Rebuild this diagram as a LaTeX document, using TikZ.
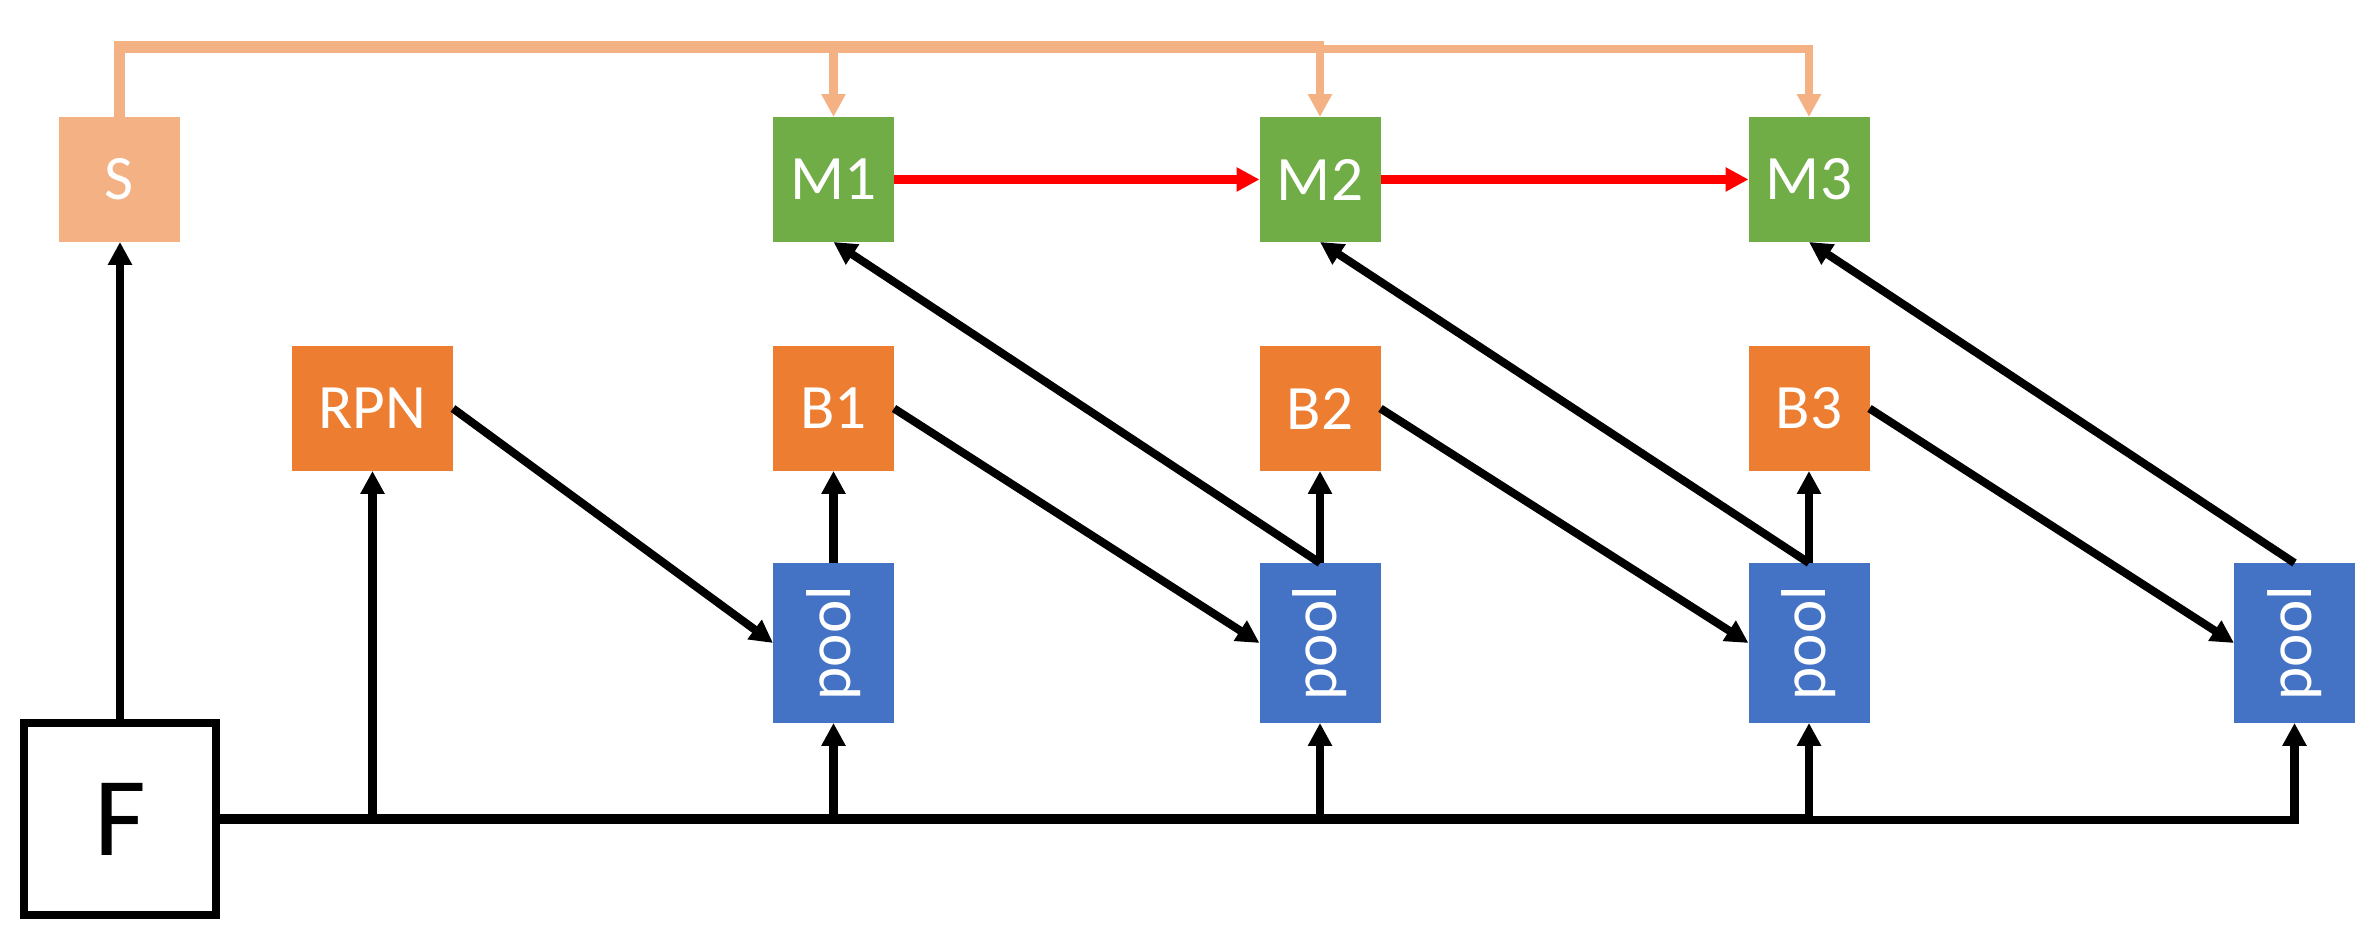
\documentclass[tikz,border=0pt]{standalone}
\usepackage{fontspec}
\setmainfont{Carlito}
\usepackage{graphicx}
\usetikzlibrary{arrows.meta, calc}
\definecolor{sorange}{HTML}{F4B183}
\definecolor{mgreen}{HTML}{70AD47}
\definecolor{borange}{HTML}{ED7D31}
\definecolor{pblue}{HTML}{4472C4}

\begin{document}
\begin{tikzpicture}[>={Triangle[length=6.5pt,width=6.5pt]}, line width=2.3pt,
		blk/.style={minimum width=1.21cm, minimum height=1.25cm, inner sep=0pt, outer sep=0pt, text=white, font=\fontsize{18}{22}\selectfont},
		snode/.style={blk, fill=sorange},
		mnode/.style={blk, fill=mgreen},
		bnode/.style={blk, fill=borange},
		pnode/.style={blk, fill=pblue, minimum height=1.60cm}]
				\useasboundingbox (0,0) rectangle (23.72,9.36);
				% top row
				\node[snode] (S) at (1.195,7.565) {S};
				\node[mnode] (M1) at (8.335,7.565) {M1};
				\node[mnode] (M2) at (13.20,7.565) {M2};
				\node[mnode] (M3) at (18.09,7.565) {M3};
				% middle row
				\node[bnode, minimum width=1.61cm] (RPN) at (3.725,5.275) {RPN};
				\node[bnode] (B1) at (8.335,5.275) {B1};
				\node[bnode] (B2) at (13.20,5.275) {B2};
				\node[bnode] (B3) at (18.09,5.275) {B3};
				% pooling
				\node[pnode] (P1) at (8.335,2.93) {\rotatebox{90}{pool}};
				\node[pnode] (P2) at (13.20,2.93) {\rotatebox{90}{pool}};
				\node[pnode] (P3) at (18.09,2.93) {\rotatebox{90}{pool}};
				\node[pnode] (P4) at (22.945,2.93) {\rotatebox{90}{pool}};
				\node[draw, minimum size=1.92cm, inner sep=0pt, font=\fontsize{32}{38}\selectfont] (F) at (1.20,1.17) {F};
				
				% feature bus
				\draw[line width=2.85pt] (F.east) -- (P3.south |- F.east);
				\draw[->] ($(P3.south |- F.east)+(0,-0.013)$) -| (P4.south);
				\draw[->] (RPN.south |- F.east) -- (RPN.south);
				\draw[->] (P1.south |- F.east) -- (P1.south);
				\draw[->] (P2.south |- F.east) -- (P2.south);
				\draw[->] (P3.south |- F.east) -- (P3.south);
				\draw[->] (F.north) -- (F.north |- S.south);
				
				% boxes into pools
				\draw[->] (RPN.east) -- (P1.west);
				\draw[->] (B1.east) -- (P2.west);
				\draw[->] (B2.east) -- (P3.west);
				\draw[->] (B3.east) -- (P4.west);
				\draw[->] (P1.north) -- (B1.south);
				\draw[->] (P2.north) -- (B2.south);
				\draw[->] (P3.north) -- (B3.south);
				\draw[->] (P2.north) -- (M1.south);
				\draw[->] (P3.north) -- (M2.south);
				\draw[->] (P4.north) -- (M3.south);
				\draw[->, red] (M1.east) -- (M2.west);
				\draw[->, red] (M2.east) -- (M3.west);
				
				% segmentation feed
				\coordinate (top) at (0,8.89);
				\draw[sorange, line width=3.4pt] (S.north) |- ($(M2.north |- top)+(0.04,0)$);
				\draw[sorange, ->] (M1.north |- top) -- (M1.north);
				\draw[sorange, ->] (M2.north |- top) -- (M2.north);
				\draw[sorange, ->] ($(M2.north |- top)+(0,-0.02)$) -| (M3.north);
			\end{tikzpicture}
\end{document}
